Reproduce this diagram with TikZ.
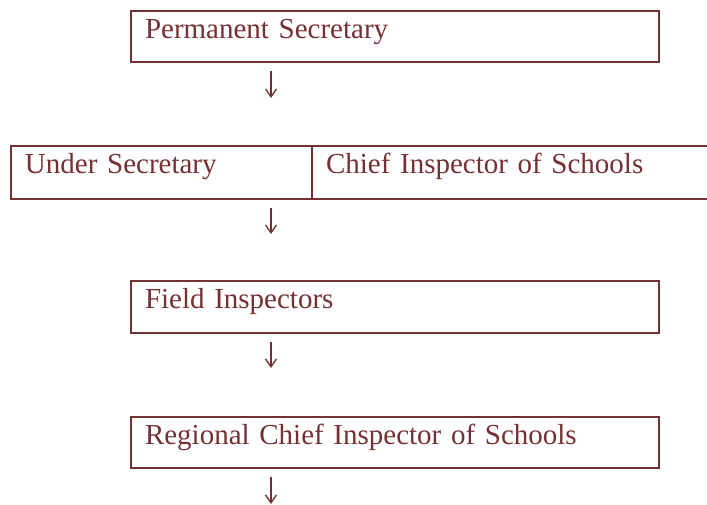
\documentclass[tikz,border=0pt]{standalone}
\usepackage{fontspec}
\setmainfont{Liberation Serif}[WordSpace=0.6]
\usetikzlibrary{arrows.meta}

\definecolor{boxred}{RGB}{117,48,52}

\begin{document}
\begin{tikzpicture}[x=0.5pt,y=-0.5pt,>={Straight Barb[length=4pt,width=5.5pt]},
    post/.style={draw=boxred,line width=1pt,text=boxred,anchor=north west,
      font=\fontsize{14.5}{17}\selectfont,align=left,outer sep=0pt,
      inner xsep=7pt,inner ysep=0pt,text height=13.75pt},
    flow/.style={->,draw=boxred,line width=0.65pt,shorten <=4.5pt}]
  \useasboundingbox (0,0) rectangle (707,504);
  \coordinate (ax) at (271,0);

  \node[post,text width=250pt,text depth=11.75pt] (ps) at (131,11) {Permanent Secretary};
  \node[post,text width=136.5pt,text depth=12.75pt] (us) at (11,146) {Under Secretary};
  \node[post,text width=185pt,text depth=12.75pt] (cis) at (us.north east) {Chief Inspector of Schools};
  \node[post,text width=250pt,text depth=12.25pt] (fi) at (131,281) {Field Inspectors};
  \node[post,text width=250pt,text depth=11.75pt] (rci) at (131,417) {Regional Chief Inspector of Schools};
  \coordinate (end) at (271,504);

  \draw[flow,shorten >=24pt] (ps.south -| ax) -- (us.north -| ax);
  \draw[flow,shorten >=23.5pt] (us.south -| ax) -- (fi.north -| ax);
  \draw[flow,shorten >=24.5pt] (fi.south -| ax) -- (rci.north -| ax);
  \draw[flow] (rci.south -| ax) -- (end);
\end{tikzpicture}
\end{document}
